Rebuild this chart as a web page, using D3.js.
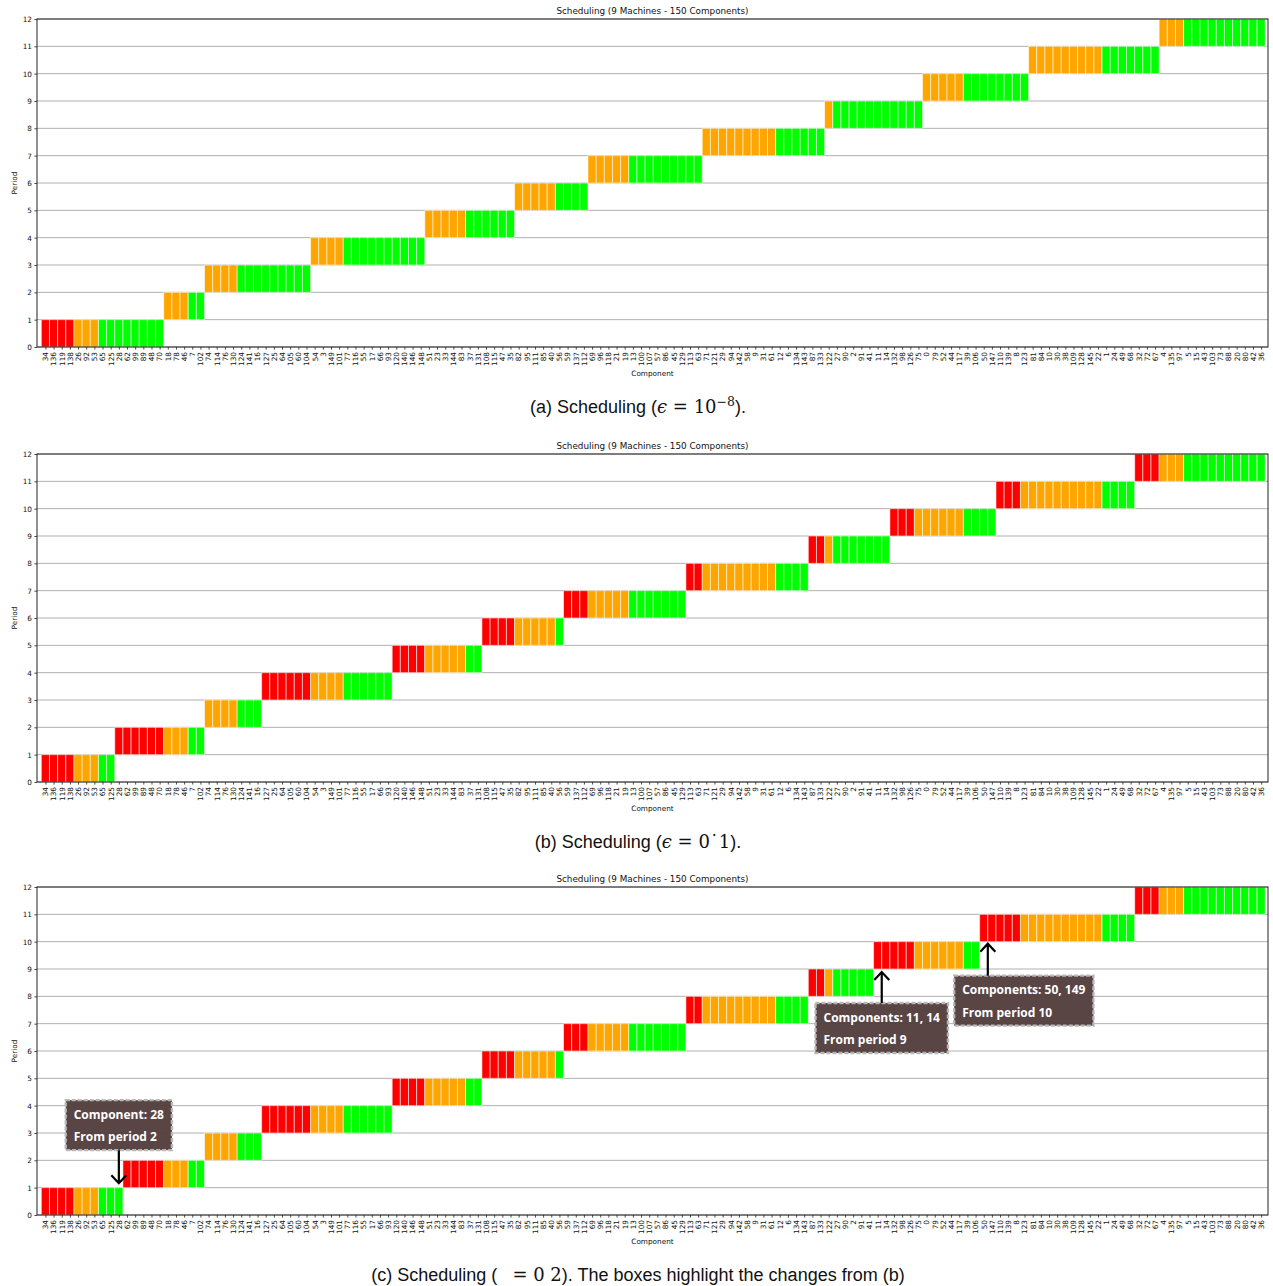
<!DOCTYPE html>
<html>
<head>
<meta charset="utf-8">
<script src="https://cdn.jsdelivr.net/npm/d3@7"></script>
<style>
  body { margin: 0; background: #fff; }
  svg text { font-family: "DejaVu Sans", sans-serif; }
  svg text.caption { font-family: "Liberation Sans", Arial, sans-serif; font-size: 18px; white-space: pre; }
  svg tspan.math { font-family: "DejaVu Serif", "Liberation Serif", serif; }
  svg text.note { font-family: "Open Sans", "Noto Sans", sans-serif; font-weight: bold; font-size: 12px; }
</style>
</head>
<body>
<svg id="fig" width="1273" height="1286"></svg>
<script>
// Component ids in the order they appear along the x axis
const components = [34,136,119,138,26,92,53,65,125,28,62,99,89,48,70,18,78,46,7,102,
  74,114,76,130,124,141,16,127,25,64,105,60,104,54,3,149,101,77,116,55,
  17,66,93,120,140,146,148,51,23,33,144,83,37,131,108,115,47,35,82,95,
  111,85,40,56,59,137,112,69,96,118,21,19,13,100,107,57,86,45,129,113,
  63,71,121,29,94,142,58,9,31,61,12,6,134,143,87,133,122,27,90,2,
  91,41,11,14,132,98,126,75,0,79,52,44,117,39,106,50,147,110,139,8,
  123,81,84,10,30,38,109,128,145,22,1,24,49,68,32,72,67,4,135,97,
  5,15,43,103,73,88,20,80,42,36];

const periods = [1,2,3,4,5,6,7,8,9,10,11,12];
const periodTicks = [0,1,2,3,4,5,6,7,8,9,10,11,12];
const statuses = ["red", "orange", "green"];

// Number of components per period, by status, in x-axis order (run a: eps = 1e-8)
const redA    = [4,0,0,0,0,0,0,0,0,0,0,0];
const orangeA = [3,3,4,4,5,5,5,9,1,5,9,3];
const greenA  = [8,2,9,10,6,4,9,6,11,8,7,10];

// Run b: eps = 0.1
const redB    = [4,6,0,6,4,4,3,2,2,3,3,3];
const orangeB = [3,3,4,4,5,5,5,9,1,6,10,3];
const greenB  = [2,2,3,6,2,1,7,4,7,4,4,10];

// Run c: eps = 0.2
const redC    = [4,5,0,6,4,4,3,2,2,5,5,3];
const orangeC = [3,3,4,4,5,5,5,9,1,6,10,3];
const greenC  = [3,2,3,6,2,1,7,4,5,2,4,10];

const chartTitle = "Scheduling (9 Machines - 150 Components)";

// Notes on run c: components that changed period relative to run b
const notes = [
  { lines: ["Component: 28", "From period 2"], at: 9, period: 1, dir: "down" },
  { lines: ["Components: 11, 14", "From period 9"], at: 102.5, period: 9, dir: "up" },
  { lines: ["Components: 50, 149", "From period 10"], at: 115.5, period: 10, dir: "up" }
];

const colors = { red: "#ff0000", orange: "#ffa500", green: "#00ff00" };

// Layout
const frameLeft = 37, frameRight = 1268, panelH = 328;
const panels = [
  { top: 19,  red: redA, orange: orangeA, green: greenA, caption: "a" },
  { top: 454, red: redB, orange: orangeB, green: greenB, caption: "b" },
  { top: 887, red: redC, orange: orangeC, green: greenC, caption: "c", notes: true }
];
// Box placement for each note: box centre offset from arrow x, arrow length, gap at the tip
const noteLayout = [
  { dx: 0,  tail: 33, tipGap: 4.5 },
  { dx: 0,  tail: 31, tipGap: 3 },
  { dx: 36, tail: 32, tipGap: 2 }
];

const svg = d3.select("#fig");
const x = d3.scaleLinear().domain([-1.03, 149.84]).range([frameLeft, frameRight]);

function expand(p) {
  const out = [];
  let idx = 0;
  periods.forEach((per, k) => {
    statuses.forEach(s => {
      for (let n = 0; n < p[s][k]; n++) {
        out.push({ i: idx, id: components[idx], period: per, status: s });
        idx++;
      }
    });
  });
  return out;
}

panels.forEach(p => {
  const g = svg.append("g");
  const y = d3.scaleLinear().domain([0, 12]).range([p.top + panelH, p.top]);

  // horizontal grid
  g.append("g").selectAll("line").data(periodTicks).join("line")
    .attr("x1", frameLeft).attr("x2", frameRight)
    .attr("y1", d => y(d)).attr("y2", d => y(d))
    .attr("stroke", "#b0b0b0").attr("stroke-width", 1);

  // bars: one per component, spanning its period
  const bars = expand(p);
  g.append("g").selectAll("rect").data(bars).join("rect")
    .attr("x", d => x(d.i - 0.5))
    .attr("width", d => x(d.i + 0.5) - x(d.i - 0.5))
    .attr("y", d => y(d.period))
    .attr("height", d => y(d.period - 1) - y(d.period))
    .attr("fill", d => colors[d.status])
    .attr("stroke", "rgba(255,255,255,0.55)")
    .attr("stroke-width", 1);

  // axes
  const xAxis = d3.axisBottom(x)
    .tickValues(d3.range(components.length))
    .tickFormat(i => components[i])
    .tickSize(2.6).tickPadding(2.4);
  const xa = g.append("g").attr("transform", `translate(0,${p.top + panelH})`).call(xAxis);
  xa.select(".domain").remove();
  xa.selectAll("line").attr("stroke", "#222").attr("stroke-width", 0.8);
  xa.selectAll("text")
    .attr("font-size", 7.3).attr("fill", "#111")
    .attr("transform", "rotate(-90)")
    .attr("x", -5).attr("y", 0).attr("dy", "0.32em")
    .attr("text-anchor", "end");

  const yAxis = d3.axisLeft(y).tickValues(periodTicks).tickSize(2.6).tickPadding(2.4);
  const ya = g.append("g").attr("transform", `translate(${frameLeft},0)`).call(yAxis);
  ya.select(".domain").remove();
  ya.selectAll("line").attr("stroke", "#222").attr("stroke-width", 0.8);
  ya.selectAll("text").attr("font-size", 7.3).attr("fill", "#111");

  // frame
  g.append("rect")
    .attr("x", frameLeft).attr("y", p.top)
    .attr("width", frameRight - frameLeft).attr("height", panelH)
    .attr("fill", "none").attr("stroke", "#222").attr("stroke-width", 1);

  // labels
  g.append("text").attr("x", (frameLeft + frameRight) / 2).attr("y", p.top - 5)
    .attr("text-anchor", "middle").attr("font-size", 8.8).attr("fill", "#111")
    .text(chartTitle);
  g.append("text").attr("x", (frameLeft + frameRight) / 2).attr("y", p.top + panelH + 29)
    .attr("text-anchor", "middle").attr("font-size", 7.3).attr("fill", "#111")
    .text("Component");
  g.append("text")
    .attr("transform", `translate(17,${p.top + panelH / 2}) rotate(-90)`)
    .attr("text-anchor", "middle").attr("font-size", 7.3).attr("fill", "#111")
    .text("Period");

  // caption
  const cap = svg.append("text").attr("class", "caption")
    .attr("x", 638).attr("y", p.top + panelH + 66)
    .attr("text-anchor", "middle").attr("fill", "#111");
  if (p.caption === "a") {
    cap.append("tspan").text("(a) Scheduling (");
    cap.append("tspan").attr("class", "math").attr("font-style", "italic").text("ϵ");
    cap.append("tspan").attr("class", "math").text(" = 10");
    cap.append("tspan").attr("class", "math").attr("font-size", 12.5).attr("dy", -7).text("−8");
    cap.append("tspan").attr("dy", 7).text(").");
  } else if (p.caption === "b") {
    cap.append("tspan").text("(b) Scheduling (");
    cap.append("tspan").attr("class", "math").attr("font-style", "italic").text("ϵ");
    cap.append("tspan").attr("class", "math").text(" = 0˙1");
    cap.append("tspan").text(").");
  } else {
    cap.append("tspan").text("(c) Scheduling (   ");
    cap.append("tspan").attr("class", "math").text("= 0 2");
    cap.append("tspan").text("). The boxes highlight the changes from (b)");
  }

  // notes with arrows
  if (p.notes) {
    notes.forEach((n, k) => {
      const L = noteLayout[k];
      const ax = x(n.at);
      const tipY = n.dir === "down" ? y(n.period) - L.tipGap : y(n.period) + L.tipGap;
      const tailY = n.dir === "down" ? tipY - L.tail : tipY + L.tail;
      const ng = g.append("g");
      const t1 = ng.append("text").attr("class", "note").attr("fill", "#fff").text(n.lines[0]);
      const t2 = ng.append("text").attr("class", "note").attr("fill", "#fff").text(n.lines[1]);
      const w = Math.max(t1.node().getComputedTextLength(), t2.node().getComputedTextLength()) + 16;
      const h = 50;
      const bx = ax + L.dx - w / 2;
      const by = n.dir === "down" ? tailY - h : tailY;
      ng.insert("rect", "text")
        .attr("x", bx).attr("y", by).attr("width", w).attr("height", h)
        .attr("fill", "#553f3f").attr("fill-opacity", 0.97)
        .attr("stroke", "#b8b8b8").attr("stroke-width", 2.4).attr("stroke-dasharray", "4,2");
      t1.attr("x", bx + 8).attr("y", by + 18.5);
      t2.attr("x", bx + 8).attr("y", by + 41);
      const hs = n.dir === "down" ? -1 : 1;
      ng.append("path")
        .attr("d", `M${ax},${tailY}L${ax},${tipY}M${ax - 7.5},${tipY + hs * 8}L${ax},${tipY}L${ax + 7.5},${tipY + hs * 8}`)
        .attr("fill", "none").attr("stroke", "#000").attr("stroke-width", 2.2);
    });
  }
});
</script>
</body>
</html>
